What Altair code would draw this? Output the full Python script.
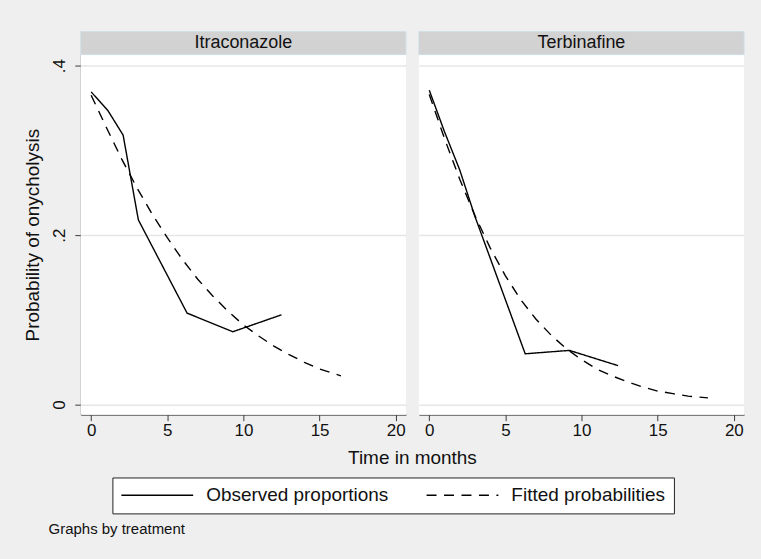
import altair as alt
import pandas as pd

# ---------------- data ----------------
treatments = ["Itraconazole", "Terbinafine"]
series_names = ["Observed proportions", "Fitted probabilities"]

itra_obs_t = [0.0, 1.1, 2.1, 3.1, 6.3, 9.3, 12.5]
itra_obs_p = [0.369, 0.347, 0.318, 0.218, 0.108, 0.086, 0.106]
terb_obs_t = [0.0, 1.0, 2.0, 3.0, 6.3, 9.2, 12.4]
terb_obs_p = [0.371, 0.322, 0.277, 0.222, 0.060, 0.064, 0.046]

itra_fit_t = [0, 1, 2, 3, 4, 5, 6, 7, 8, 9, 10, 11, 12, 13, 14, 15, 16.4]
itra_fit_p = [0.365, 0.327, 0.290, 0.256, 0.225, 0.197, 0.171, 0.148, 0.128,
              0.110, 0.094, 0.081, 0.069, 0.059, 0.050, 0.042, 0.034]
terb_fit_t = [0, 1, 2, 3, 4, 5, 6, 7, 8, 9, 10, 11, 12, 13, 14, 15, 16, 17, 18.3]
terb_fit_p = [0.366, 0.314, 0.266, 0.223, 0.185, 0.152, 0.124, 0.101, 0.082,
              0.066, 0.053, 0.042, 0.034, 0.027, 0.021, 0.016, 0.013, 0.010, 0.008]

x_ticks = [0, 5, 10, 15, 20]
y_ticks = [0, 0.2, 0.4]

rows = []
for trt, s, ts, ps in [
    (treatments[0], series_names[0], itra_obs_t, itra_obs_p),
    (treatments[0], series_names[1], itra_fit_t, itra_fit_p),
    (treatments[1], series_names[0], terb_obs_t, terb_obs_p),
    (treatments[1], series_names[1], terb_fit_t, terb_fit_p),
]:
    for t, p in zip(ts, ps):
        rows.append({"treatment": trt, "series": s, "time": t, "prob": p})
df = pd.DataFrame(rows)

# ---------------- styling ----------------
FONT = "Liberation Sans"
W, H = 326, 361
XDOM = [-0.68, 20.67]
YDOM = [-0.0118, 0.413]
AXC = "#3a3a3a"
TXT = "#111111"

x_enc = alt.X(
    "time:Q",
    scale=alt.Scale(domain=XDOM, nice=False, zero=False),
    axis=alt.Axis(values=x_ticks, title=None, grid=False, labelFlush=False,
                  labelOverlap=False, tickSize=6, labelPadding=2,
                  labelFontSize=17, labelFont=FONT, labelColor=TXT,
                  domainColor=AXC, tickColor=AXC, format="d"),
)
y_enc = alt.Y(
    "prob:Q",
    scale=alt.Scale(domain=YDOM, nice=False, zero=False),
    axis=alt.Axis(values=y_ticks, title="Probability of onycholysis",
                  grid=True, gridColor="#e6e6e6", gridWidth=1.5,
                  labelExpr="datum.value == 0 ? '0' : replace(format(datum.value, '.1f'), '0.', '.')",
                  labelAngle=270, labelAlign="center", labelBaseline="alphabetic",
                  labelPadding=10, labelFlush=False, labelOverlap=False,
                  tickSize=6, labelFontSize=17, labelFont=FONT, labelColor=TXT,
                  domainColor=AXC, tickColor=AXC,
                  titleFont=FONT, titleFontSize=19, titleFontWeight="normal",
                  titleColor=TXT, titlePadding=8),
)

lines = alt.Chart().mark_line(color="black", strokeWidth=1.4).encode(
    x=x_enc,
    y=y_enc,
    strokeDash=alt.StrokeDash(
        "series:N",
        scale=alt.Scale(domain=series_names, range=[[1, 0], [10, 7.5]]),
        legend=alt.Legend(
            title=None, orient="none", legendX=31.7, legendY=424,
            direction="horizontal", fillColor="white", strokeColor="#222222",
            padding=8, symbolType="stroke", symbolSize=5184, clipHeight=19,
            symbolStrokeWidth=1.4, symbolStrokeColor="black",
            labelFont=FONT, labelFontSize=19, labelColor=TXT,
            labelOffset=12, columnPadding=37, labelLimit=0,
        ),
    ),
)

hdr = alt.Chart().transform_aggregate(
    n="count()", groupby=["treatment"]
).mark_rect(fill="#d2d2d2", stroke="#cddde6", strokeWidth=1).encode(
    x=alt.value(0), x2=alt.value(W), y=alt.value(-23), y2=alt.value(0)
)
hdr_txt = alt.Chart().transform_aggregate(
    n="count()", groupby=["treatment"]
).mark_text(font=FONT, fontSize=18, color=TXT, align="center", baseline="middle").encode(
    x=alt.value(W / 2), y=alt.value(-11.5), text="treatment:N"
)

first_only = alt.Chart().transform_aggregate(
    n="count()", groupby=["treatment"]
).transform_filter(alt.datum.treatment == treatments[0])

x_title = first_only.mark_text(font=FONT, fontSize=19, color=TXT, align="center",
                               baseline="middle").encode(
    x=alt.value(332.5), y=alt.value(404), text=alt.value("Time in months")
)
note = first_only.mark_text(font=FONT, fontSize=15, color=TXT, align="left",
                            baseline="middle").encode(
    x=alt.value(-32.3), y=alt.value(476), text=alt.value("Graphs by treatment")
)

panel = alt.layer(hdr, hdr_txt, lines, x_title, note, data=df).properties(width=W, height=H)

chart = panel.facet(
    column=alt.Column("treatment:N", sort=treatments,
                      header=alt.Header(labels=False, title=None)),
    spacing=13,
    bounds="flush",
).properties(
    padding={"left": 24, "top": 30, "right": 16, "bottom": 22},
    background="#efefef",
).configure_view(fill="white", strokeWidth=0)

chart.save("out.html", embed_options={"renderer": "svg", "actions": False})
